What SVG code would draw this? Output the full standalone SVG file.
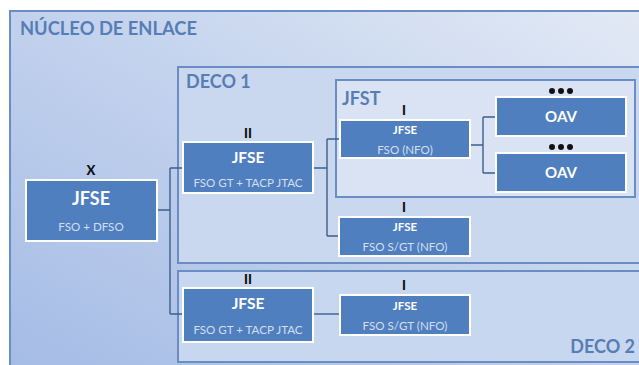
<svg xmlns="http://www.w3.org/2000/svg" width="639" height="365" viewBox="0 0 639 365">
  <defs>
    <linearGradient id="coreFill" x1="0" y1="1" x2="1" y2="0">
      <stop offset="0" stop-color="#a4bbe5"/>
      <stop offset="0.5" stop-color="#c1d1ed"/>
      <stop offset="1" stop-color="#e3eaf5"/>
    </linearGradient>
    <style>
      .frame { stroke: #6a8dc4; stroke-width: 2; }
      .title { font-family: Lato, "Open Sans", sans-serif; font-weight: bold; font-size: 18px; fill: #577db5; }
      .node { fill: #4f7fbf; stroke: #ffffff; stroke-width: 2; }
      .head { font-family: Lato, "Open Sans", sans-serif; font-weight: bold; fill: #ffffff; text-anchor: middle; }
      .sub { font-family: Lato, "Open Sans", sans-serif; font-size: 11.6px; fill: #d3dff1; text-anchor: middle; }
      .rank { font-family: Lato, "Open Sans", sans-serif; font-weight: 900; font-size: 13px; fill: #111111; text-anchor: middle; }
      .dots { fill: #111111; }
      .link { fill: none; stroke: #3d5f8c; stroke-width: 1.4; }
    </style>
  </defs>

  <rect width="639" height="365" fill="#ffffff"/>

  <!-- containers -->
  <g id="nucleo">
    <rect x="10" y="11" width="640" height="370" fill="url(#coreFill)" class="frame"/>
    <text x="20" y="35" class="title" textLength="177" lengthAdjust="spacingAndGlyphs">NÚCLEO DE ENLACE</text>
  </g>
  <g id="deco1">
    <rect x="178" y="67" width="470" height="196" fill="#c9d8ef" class="frame"/>
    <text x="186" y="88" class="title">DECO 1</text>
  </g>
  <g id="jfst">
    <rect x="336" y="80" width="299" height="117" fill="#dae3f3" class="frame"/>
    <text x="342" y="105" class="title">JFST</text>
  </g>
  <g id="deco2">
    <rect x="178" y="271" width="470" height="91" fill="#c7d7ef" class="frame"/>
    <text x="635" y="353" class="title" text-anchor="end">DECO 2</text>
  </g>

  <!-- connectors -->
  <g id="connectors">
    <path class="link" d="M157 210 H170 M170 168 V314 M170 168 H183 M170 314 H183"/>
    <path class="link" d="M313 168 H327 M327 139 V236 M327 139 H340 M327 236 H339"/>
    <path class="link" d="M470 145 H483 M483 117 V173 M483 117 H496 M483 173 H496"/>
    <path class="link" d="M313 314 H340"/>
  </g>

  <!-- nodes -->
  <g id="jfse-x">
    <text x="91" y="175" class="rank">X</text>
    <rect x="26" y="180" width="131" height="61" class="node"/>
    <text x="91" y="205" class="head" font-size="18">JFSE</text>
    <text x="91" y="231" class="sub">FSO + DFSO</text>
  </g>
  <g id="jfse-deco1-ii">
    <text x="248" y="138" class="rank">II</text>
    <rect x="183" y="142" width="130" height="51" class="node"/>
    <text x="248" y="163" class="head" font-size="15.5">JFSE</text>
    <text x="248" y="187" class="sub">FSO GT + TACP JTAC</text>
  </g>
  <g id="jfse-jfst-i">
    <text x="404" y="115" class="rank">I</text>
    <rect x="340" y="120" width="130" height="38" class="node"/>
    <text x="405" y="134" class="head" font-size="11.5">JFSE</text>
    <text x="405" y="154" class="sub">FSO (NFO)</text>
  </g>
  <g id="oav-1">
    <g class="dots"><circle cx="552" cy="91" r="3"/><circle cx="561" cy="91" r="3"/><circle cx="570" cy="91" r="3"/></g>
    <rect x="496" y="97" width="130" height="39" class="node"/>
    <text x="561" y="122" class="head" font-size="15">OAV</text>
  </g>
  <g id="oav-2">
    <g class="dots"><circle cx="552" cy="147" r="3"/><circle cx="561" cy="147" r="3"/><circle cx="570" cy="147" r="3"/></g>
    <rect x="496" y="153" width="130" height="39" class="node"/>
    <text x="561" y="178" class="head" font-size="15">OAV</text>
  </g>
  <g id="jfse-deco1-i">
    <text x="404" y="212" class="rank">I</text>
    <rect x="339" y="217" width="131" height="39" class="node"/>
    <text x="405" y="231" class="head" font-size="11.5">JFSE</text>
    <text x="405" y="251" class="sub">FSO S/GT (NFO)</text>
  </g>
  <g id="jfse-deco2-ii">
    <text x="248" y="284" class="rank">II</text>
    <rect x="183" y="288" width="130" height="54" class="node"/>
    <text x="248" y="309" class="head" font-size="15.5">JFSE</text>
    <text x="248" y="334" class="sub">FSO GT + TACP JTAC</text>
  </g>
  <g id="jfse-deco2-i">
    <text x="404" y="290" class="rank">I</text>
    <rect x="340" y="295" width="130" height="40" class="node"/>
    <text x="405" y="310" class="head" font-size="11.5">JFSE</text>
    <text x="405" y="330" class="sub">FSO S/GT (NFO)</text>
  </g>
</svg>
